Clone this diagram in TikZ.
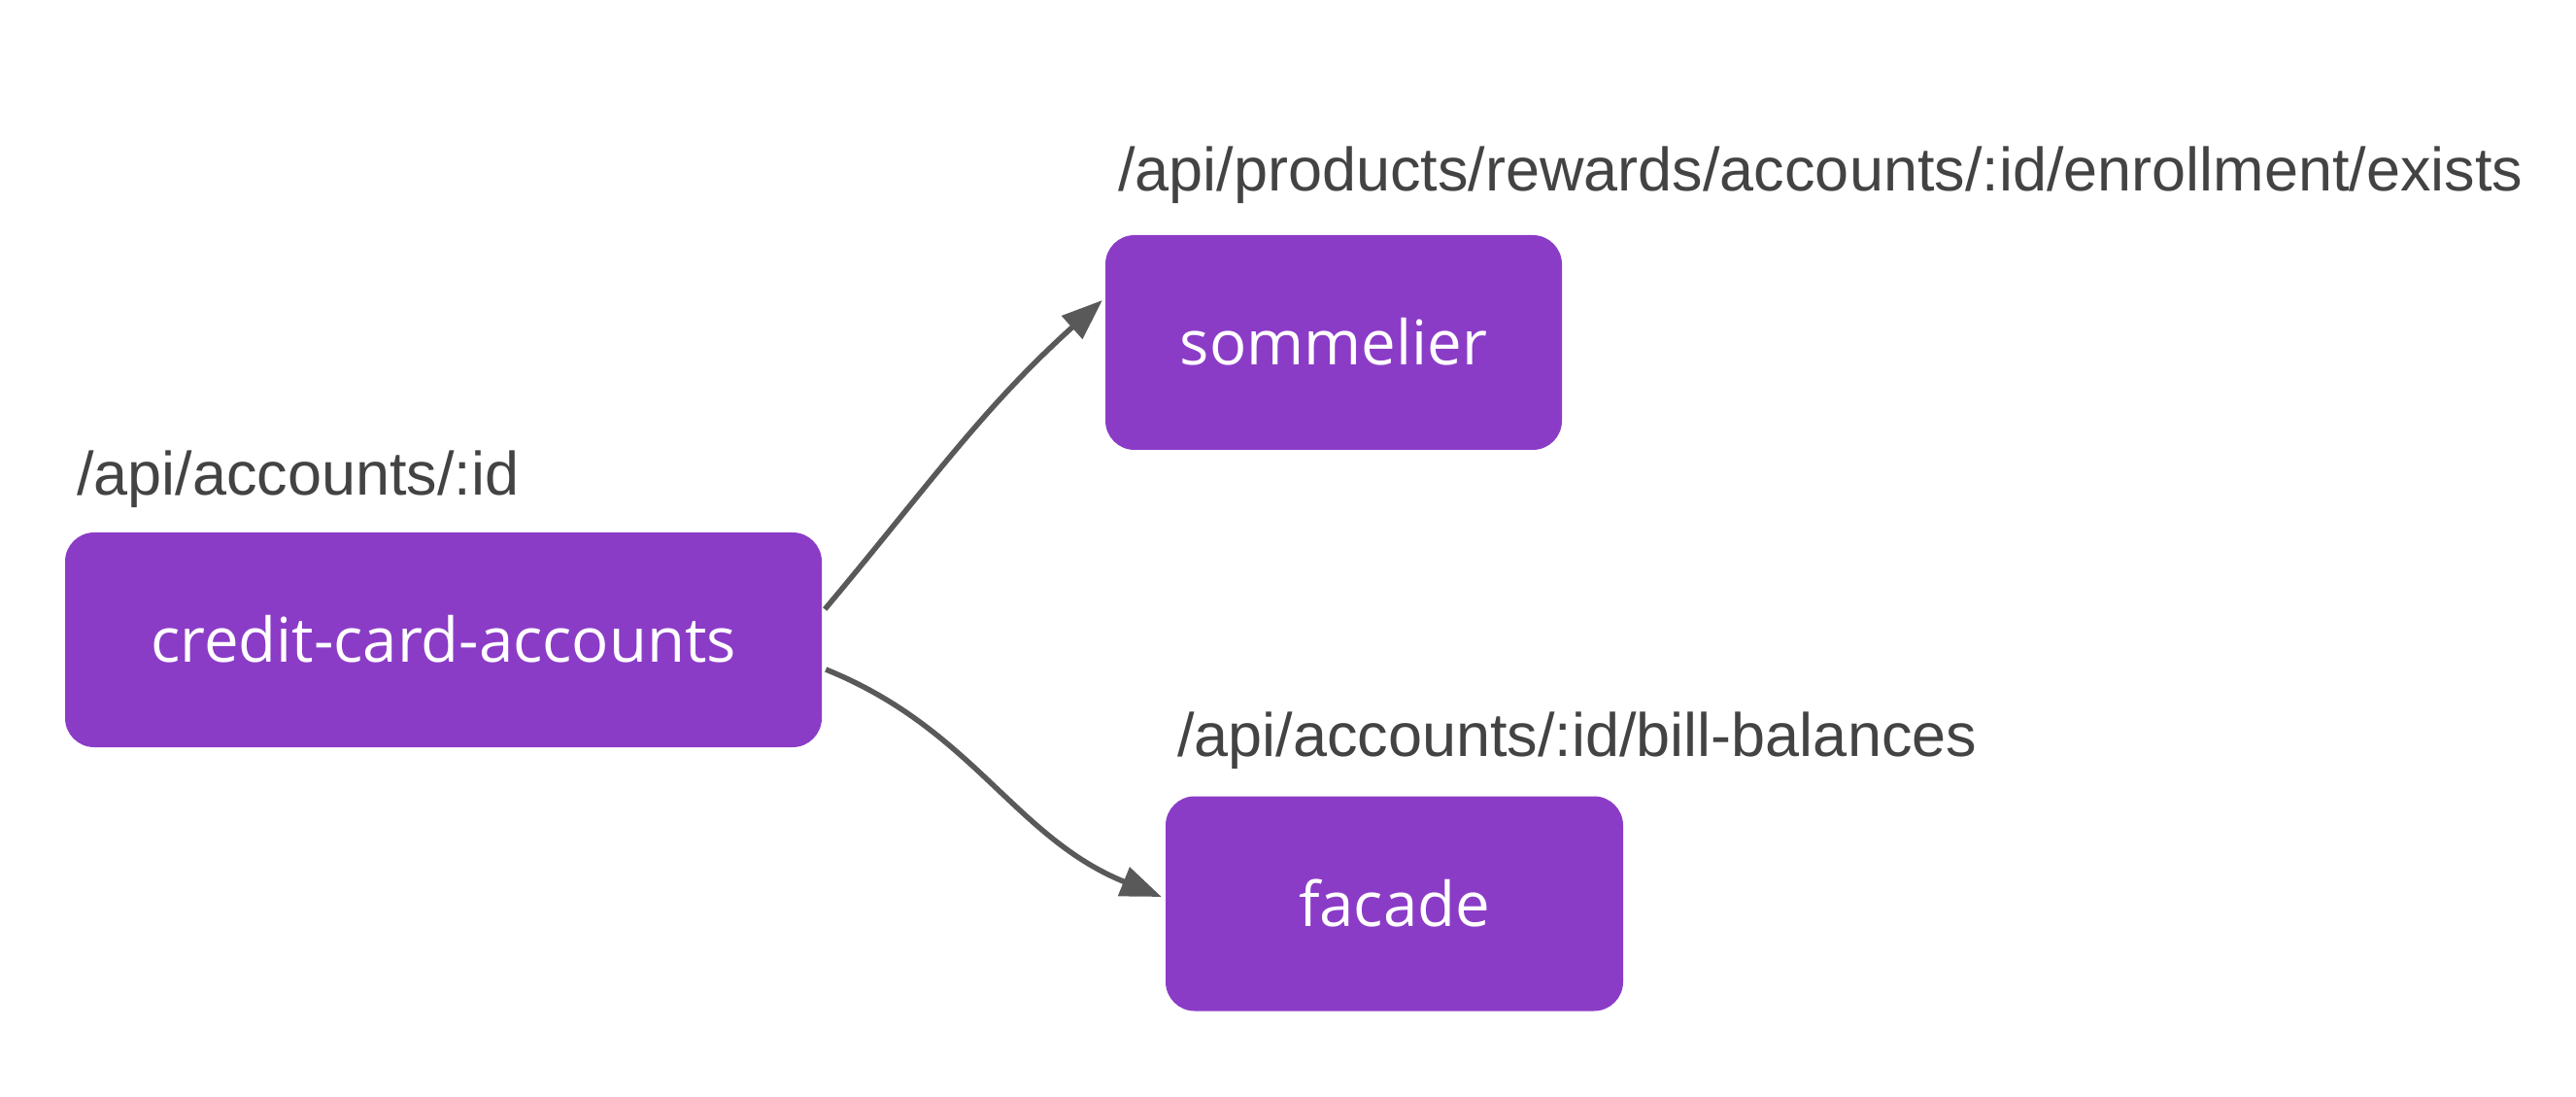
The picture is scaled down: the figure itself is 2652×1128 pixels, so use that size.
\documentclass[tikz,border=0pt]{standalone}
\usepackage{fontspec}
\setmainfont{Liberation Sans}
\newfontfamily\boxfont{Open Sans}
\usetikzlibrary{arrows.meta}
\definecolor{boxpurple}{HTML}{8B3CC7}
\definecolor{labelgray}{HTML}{434343}
\definecolor{arrowgray}{HTML}{595959}
\tikzset{
  svc/.style={draw=none, fill=boxpurple, rounded corners=30pt, inner sep=0pt,
    minimum height=221pt, text=white, text height=47pt, text depth=0pt,
    font=\boxfont\fontsize{63.5}{76}\selectfont},
  route/.style={anchor=base west, inner sep=0pt, text=labelgray,
    font=\fontsize{63}{75}\selectfont},
  conn/.style={draw=arrowgray, line width=5.5pt,
    -{Triangle[length=42pt, width=31pt]}}
}
\begin{document}
\begin{tikzpicture}[x=1pt, y=1pt]
\useasboundingbox (0,0) rectangle (2652,1128);
\node[svc, minimum width=779pt] (cca) at (456.5,469.5) {credit-card-accounts};
\node[svc, minimum width=470pt] (som) at (1373,775.5) {sommelier};
\node[svc, minimum width=471pt] (fac) at (1435.5,198) {facade};
\node[route] (l1) at (79,618) {/api/accounts/:id};
\node[route] (l2) at (1151,931) {/api/products/rewards/accounts/:id/enrollment/exists};
\node[route] (l3) at (1212,349) {/api/accounts/:id/bill-balances};
\draw[conn] ([xshift=3pt,yshift=31.5pt]cca.east) to[out=50,in=222] ([xshift=-3pt,yshift=43.5pt]som.west);
\draw[conn] ([xshift=4pt,yshift=-30.5pt]cca.east) to[out=-22,in=158] ([xshift=-4pt,yshift=7pt]fac.west);
\end{tikzpicture}
\end{document}
